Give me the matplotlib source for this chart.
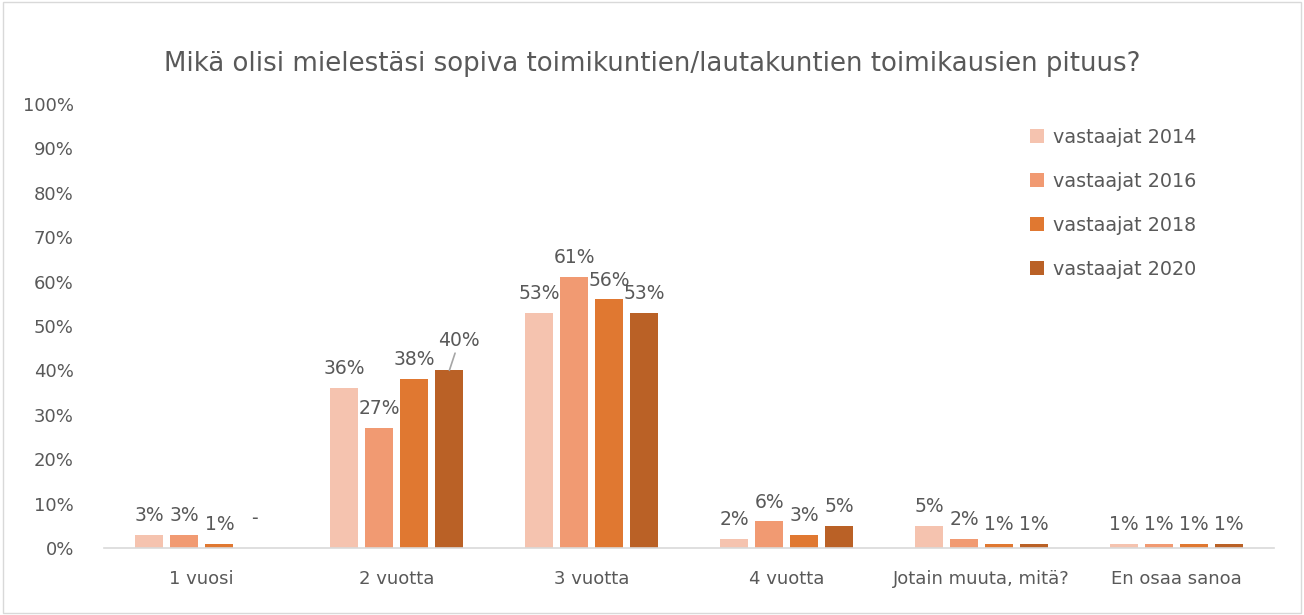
import matplotlib.pyplot as plt
import numpy as np

categories = ["1 vuosi", "2 vuotta", "3 vuotta", "4 vuotta", "Jotain muuta, mitä?", "En osaa sanoa"]
series = ["vastaajat 2014", "vastaajat 2016", "vastaajat 2018", "vastaajat 2020"]
v2014 = [3, 36, 53, 2, 5, 1]
v2016 = [3, 27, 61, 6, 2, 1]
v2018 = [1, 38, 56, 3, 1, 1]
v2020 = [0, 40, 53, 5, 1, 1]
values = [v2014, v2016, v2018, v2020]
colors = ["#F5C3AF", "#F19A72", "#E07831", "#BA6126"]
yticks = list(range(0, 101, 10))

txt = "#595959"
fig = plt.figure(figsize=(13.04, 6.15), dpi=100)
ax = fig.add_axes([0.08, 0.109, 0.897, 0.722])

x = np.arange(len(categories))
w = 0.144
step = 0.18
for i, (name, vals, c) in enumerate(zip(series, values, colors)):
    pos = x + (i - 1.5) * step
    ax.bar(pos, vals, width=w, color=c, label=name, zorder=2)
    for p, v in zip(pos, vals):
        if v == 0:
            ax.text(p, 4.5, "-", ha="center", va="bottom", fontsize=13.5, color=txt)
        elif i == 3 and v == 40:
            ax.annotate(f"{v}%", xy=(p, v), xytext=(p + 0.05, v + 4.5),
                        ha="center", va="bottom", fontsize=13.5, color=txt,
                        arrowprops=dict(arrowstyle="-", color="#A6A6A6", lw=1.2,
                                        shrinkA=0, shrinkB=0))
        else:
            ax.text(p, v + 2.2, f"{v}%", ha="center", va="bottom", fontsize=13.5, color=txt)

ax.set_xlim(-0.5, len(categories) - 0.5)
ax.set_ylim(0, 100)
ax.set_yticks(yticks)
ax.set_yticklabels([f"{t}%" for t in yticks], fontsize=13, color=txt)
ax.set_xticks(x)
ax.set_xticklabels(categories, fontsize=13, color=txt)
ax.tick_params(axis="both", length=0, pad=22)
ax.tick_params(axis="x", pad=16)
for s in ["top", "right", "left"]:
    ax.spines[s].set_visible(False)
ax.spines["bottom"].set_color("#D9D9D9")
ax.spines["bottom"].set_linewidth(1.2)

fig.suptitle("Mikä olisi mielestäsi sopiva toimikuntien/lautakuntien toimikausien pituus?",
             fontsize=18.7, color=txt, y=0.917)

leg = ax.legend(loc="upper left", bbox_to_anchor=(0.777, 0.985), frameon=False,
                fontsize=13.8, labelcolor=txt, handlelength=0.7, handleheight=0.7,
                labelspacing=1.3, handletextpad=0.5)

fig.patches.append(plt.Rectangle((0.002, 0.003), 0.996, 0.994, transform=fig.transFigure,
                                 fill=False, edgecolor="#D9D9D9", lw=1))
fig.savefig("out.png", dpi=100)
